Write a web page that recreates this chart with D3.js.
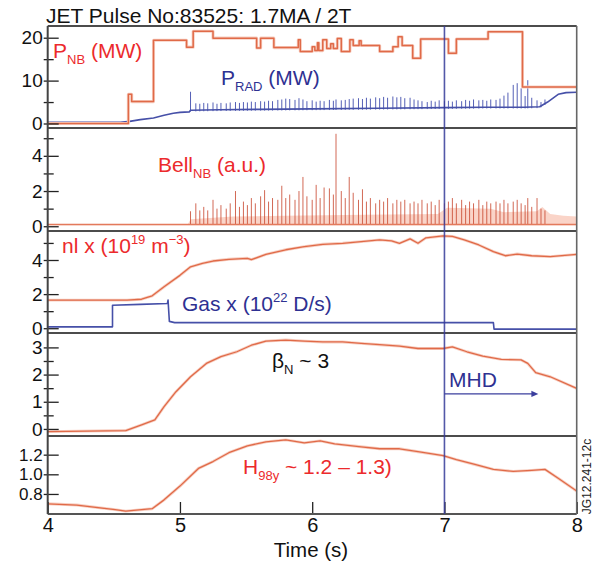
<!DOCTYPE html>
<html>
<head>
<meta charset="utf-8">
<script src="https://cdn.jsdelivr.net/npm/d3@7"></script>
<style>
  body { margin: 0; background: #fff; }
  svg { display: block; font-family: "Liberation Sans", Arial, Helvetica, sans-serif; }
  text { white-space: pre; }
</style>
</head>
<body>
<svg id="chart" width="595" height="567"></svg>
<script>
// ---- data (time in s) ----
const timeTicks = [4, 5, 6, 7, 8];

// P_NB (MW), step signal
const pnb = [[4.00, 0.0], [4.61, 6.8], [4.635, 5.1], [4.80, 19.4], [5.05, 17.8], [5.10, 21.5],
  [5.25, 19.9], [5.58, 17.6], [5.61, 19.9], [5.71, 17.7], [5.895, 19.5], [5.91, 16.8],
  [6.00, 17.9], [6.02, 17.0], [6.04, 18.8], [6.05, 17.0], [6.08, 19.5], [6.11, 17.5],
  [6.14, 18.6], [6.16, 17.5], [6.19, 19.8], [6.22, 16.8], [6.285, 19.5], [6.31, 18.2],
  [6.355, 19.3], [6.37, 18.2], [6.51, 16.8], [6.61, 17.9], [6.65, 20.2], [6.68, 18.2],
  [6.76, 15.2], [6.82, 19.7], [7.03, 16.4], [7.09, 19.7], [7.33, 21.4], [7.59, 8.5], [8.00, 8.5]];

// P_RAD (MW) baseline between ELMs
const pradBase = [[4.00, 0.3], [4.55, 0.3], [4.62, 0.5], [4.70, 0.9], [4.80, 1.3], [4.88, 1.9],
  [4.95, 2.4], [5.00, 2.6], [5.07, 2.7], [5.08, 3.1], [5.30, 3.2], [5.60, 3.3], [6.00, 3.4],
  [6.50, 3.55], [7.00, 3.7], [7.30, 3.8], [7.60, 3.8], [7.72, 3.9], [7.78, 5.0], [7.86, 6.8],
  [7.92, 7.2], [8.00, 7.3]];

// ELMs: [time, P_RAD peak (MW), Bell_NB peak (a.u.)]
const elms = [
  [5.08, 7.4, 0.85], [5.12, 4.7, 1.3], [5.15, 4.6, 0.9], [5.18, 4.8, 1.1], [5.21, 4.7, 0.9],
  [5.25, 4.9, 1.5], [5.28, 4.6, 1.0], [5.31, 4.8, 1.2], [5.35, 4.7, 1.0], [5.38, 4.9, 1.3],
  [5.42, 5.0, 2.0], [5.45, 4.8, 1.1], [5.48, 5.0, 1.4], [5.51, 4.9, 1.2], [5.54, 5.1, 1.6],
  [5.57, 5.0, 1.3], [5.61, 5.2, 1.7], [5.64, 5.1, 2.05], [5.67, 5.3, 1.4], [5.70, 5.2, 1.6],
  [5.74, 5.5, 1.5], [5.77, 5.6, 2.3], [5.80, 5.8, 1.6], [5.83, 5.7, 1.8], [5.87, 5.5, 1.5],
  [5.90, 5.9, 2.0], [5.93, 5.6, 2.8], [5.96, 5.2, 1.7], [6.00, 5.4, 1.5], [6.03, 5.1, 2.35],
  [6.06, 5.3, 1.6], [6.09, 5.2, 2.2], [6.13, 5.5, 2.15], [6.16, 5.3, 1.8], [6.18, 5.6, 5.25],
  [6.22, 5.4, 2.0], [6.25, 5.5, 1.6], [6.28, 5.7, 2.8], [6.31, 5.8, 1.9], [6.35, 5.9, 1.5],
  [6.38, 5.7, 2.1], [6.41, 6.0, 1.4], [6.44, 5.8, 1.6], [6.48, 6.1, 1.3], [6.51, 5.9, 1.5],
  [6.54, 6.2, 1.4], [6.57, 6.0, 1.6], [6.61, 6.3, 1.3], [6.64, 6.1, 1.5], [6.67, 6.2, 1.4],
  [6.70, 5.9, 1.5], [6.74, 6.0, 1.3], [6.77, 5.6, 1.4], [6.80, 5.4, 1.3], [6.83, 5.2, 1.5],
  [6.87, 5.0, 1.3], [6.90, 5.3, 1.4], [6.93, 5.1, 1.2], [6.96, 5.4, 1.5], [7.00, 5.2, 1.3],
  [7.03, 5.3, 1.4], [7.06, 5.1, 1.6], [7.09, 5.4, 1.3], [7.13, 5.2, 1.5], [7.16, 5.5, 1.2],
  [7.19, 5.3, 1.4], [7.22, 5.6, 1.3], [7.26, 5.4, 1.5], [7.29, 5.5, 1.2], [7.32, 5.3, 1.4],
  [7.35, 5.6, 1.3], [7.39, 5.5, 1.4], [7.42, 5.8, 1.3], [7.45, 6.5, 1.5], [7.48, 7.2, 1.3],
  [7.52, 9.0, 1.4], [7.55, 9.4, 1.5], [7.58, 8.2, 1.3], [7.61, 6.4, 1.2], [7.63, 10.1, 1.6],
  [7.66, 6.0, 1.1], [7.70, 5.4, 1.6], [7.73, 5.0, 1.0], [7.76, 5.6, 0.9]];

// Bell_NB dense background between ELMs (upper edge, a.u.)
const bellBand = [[4.00, 0.12], [5.06, 0.12], [5.08, 0.4], [5.40, 0.55], [5.80, 0.6], [6.40, 0.65],
  [6.95, 0.7], [7.02, 1.05], [7.35, 1.0], [7.45, 0.8], [7.70, 0.85], [7.74, 1.1], [7.80, 0.7],
  [7.90, 0.6], [8.00, 0.55]];

// line integrated density (10^19 m^-3)
const density = [[4.00, 1.65], [4.60, 1.65], [4.71, 1.7], [4.79, 1.9], [4.88, 2.43], [5.00, 3.1],
  [5.08, 3.6], [5.17, 3.8], [5.25, 3.94], [5.37, 4.04], [5.51, 4.1], [5.54, 4.02], [5.65, 4.33],
  [5.80, 4.6], [5.94, 4.78], [6.08, 4.92], [6.23, 4.98], [6.37, 5.08], [6.51, 5.18], [6.60, 5.12],
  [6.66, 4.98], [6.74, 5.24], [6.80, 4.98], [6.86, 5.3], [6.99, 5.41], [7.06, 5.38], [7.15, 5.18],
  [7.26, 4.88], [7.37, 4.49], [7.46, 4.25], [7.55, 4.35], [7.66, 4.25], [7.80, 4.2], [8.00, 4.33]];

// gas rate (10^22 D/s)
const gas = [[4.00, 0.08], [4.49, 0.08], [4.49, 1.35], [4.70, 1.4], [4.905, 1.45], [4.91, 1.65],
  [4.92, 0.4], [4.96, 0.33], [7.37, 0.33], [7.375, -0.05], [8.00, -0.05]];

// normalised beta
const betaN = [[4.00, -0.1], [4.59, -0.06], [4.71, 0.15], [4.81, 0.33], [4.88, 0.82], [4.97, 1.37],
  [5.08, 1.92], [5.20, 2.41], [5.31, 2.66], [5.43, 2.84], [5.54, 3.08], [5.65, 3.23], [5.80, 3.27],
  [5.94, 3.23], [6.08, 3.2], [6.23, 3.2], [6.37, 3.15], [6.51, 3.1], [6.66, 3.05], [6.80, 2.96],
  [6.99, 2.96], [7.06, 3.02], [7.17, 2.84], [7.29, 2.68], [7.43, 2.56], [7.58, 2.54], [7.63, 2.41],
  [7.69, 2.07], [7.80, 1.92], [8.00, 1.49]];

// H98y confinement factor
const h98 = [[4.00, 0.70], [4.22, 0.687], [4.51, 0.64], [4.59, 0.625], [4.79, 0.65], [4.88, 0.74],
  [5.00, 0.88], [5.14, 1.06], [5.25, 1.13], [5.37, 1.22], [5.51, 1.29], [5.65, 1.33], [5.80, 1.35],
  [5.94, 1.32], [6.06, 1.34], [6.17, 1.31], [6.37, 1.28], [6.51, 1.26], [6.66, 1.26], [6.80, 1.23],
  [6.99, 1.19], [7.09, 1.15], [7.23, 1.10], [7.37, 1.05], [7.52, 1.03], [7.66, 1.04], [7.76, 1.05],
  [7.86, 0.96], [8.00, 0.83]];

const mhdTime = 7.0, mhdEnd = 7.71, mhdLevel = 1.29;

const pnbTicks = [0, 10, 20], pnbMinor = [5, 15];
const bellTicks = [0, 2, 4], bellMinor = [1, 3, 5];
const nlTicks = [0, 2, 4], nlMinor = [1, 3, 5];
const betaTicks = [0, 1, 2, 3], betaMinor = [0.5, 1.5, 2.5];
const h98Ticks = [0.8, 1.0, 1.2];

// ---- layout ----
const svg = d3.select("#chart");
const left = 47.7, right = 576.7;
const RED = "#ec2a2c", BLUE = "#2e3192", ORANGE = "#e06a48", HALO = "#f7cfc2", NAVY = "#4650a8";

const x = d3.scaleLinear().domain([4, 8]).range([left, right]);

const panels = [
  { top: 26, bottom: 128, domain: [-1.05, 22.73], ticks: pnbTicks, minor: pnbMinor, fmt: d3.format("d"), fs: 19 },
  { top: 128, bottom: 231, domain: [-0.27, 5.58], ticks: bellTicks, minor: bellMinor, fmt: d3.format("d"), fs: 19 },
  { top: 231, bottom: 333, domain: [-0.28, 5.70], ticks: nlTicks, minor: nlMinor, fmt: d3.format("d"), fs: 19 },
  { top: 333, bottom: 436, domain: [-0.26, 3.53], ticks: betaTicks, minor: betaMinor, fmt: d3.format("d"), fs: 19 },
  { top: 436, bottom: 514, domain: [0.596, 1.39], ticks: h98Ticks, minor: [], fmt: d3.format(".1f"), fs: 17 }
];
panels.forEach((p, i) => {
  p.y = d3.scaleLinear().domain(p.domain).range([p.bottom, p.top]);
  svg.append("clipPath").attr("id", "clip" + i)
    .append("rect").attr("x", left).attr("y", p.top).attr("width", right - left).attr("height", p.bottom - p.top);
  p.g = svg.append("g").attr("clip-path", "url(#clip" + i + ")");
});

function trace(g, data, y, color, width, curve) {
  const line = d3.line().x(d => x(d[0])).y(d => y(d[1])).curve(curve || d3.curveLinear);
  if (color === ORANGE) {
    g.append("path").datum(data).attr("d", line).attr("fill", "none")
      .attr("stroke", HALO).attr("stroke-width", width + 1.6).attr("stroke-linejoin", "round");
  }
  g.append("path").datum(data).attr("d", line).attr("fill", "none")
    .attr("stroke", color).attr("stroke-width", width).attr("stroke-linejoin", "round");
}

// panel 1: P_NB and P_RAD
const p1 = panels[0];
const baseAt = d3.scaleLinear().domain(pradBase.map(d => d[0])).range(pradBase.map(d => d[1]));
p1.g.append("g").selectAll("line").data(elms).join("line")
  .attr("x1", d => x(d[0])).attr("x2", d => x(d[0]))
  .attr("y1", d => p1.y(baseAt(d[0]) - 0.3)).attr("y2", d => p1.y(d[1]))
  .attr("stroke", "#5560b6").attr("stroke-width", 1);
trace(p1.g, pradBase, p1.y, NAVY, 1.6);
trace(p1.g, pnb, p1.y, ORANGE, 1.5, d3.curveStepAfter);

// panel 2: Bell_NB
const p2 = panels[1];
p2.g.append("path").datum(bellBand)
  .attr("d", d3.area().x(d => x(d[0])).y0(p2.y(0.05)).y1(d => p2.y(d[1])))
  .attr("fill", "#f6b8a4").attr("opacity", 0.6);
p2.g.append("g").selectAll("line").data(elms).join("line")
  .attr("x1", d => x(d[0])).attr("x2", d => x(d[0]))
  .attr("y1", p2.y(0.1)).attr("y2", d => p2.y(d[2]))
  .attr("stroke", "#c8452c").attr("stroke-width", 1).attr("opacity", 0.8);
p2.g.append("line").attr("x1", left).attr("x2", right)
  .attr("y1", p2.y(0.1)).attr("y2", p2.y(0.1))
  .attr("stroke", "#e37a5c").attr("stroke-width", 1.4);

// panel 3: density and gas
const p3 = panels[2];
trace(p3.g, gas, p3.y, NAVY, 1.6);
trace(p3.g, density, p3.y, ORANGE, 1.3);

// panel 4: beta_N
const p4 = panels[3];
trace(p4.g, betaN, p4.y, ORANGE, 1.3);

// panel 5: H98y
const p5 = panels[4];
trace(p5.g, h98, p5.y, ORANGE, 1.3);

// ---- axes ----
panels.forEach(p => {
  const ax = svg.append("g").attr("transform", `translate(${left},0)`)
    .call(d3.axisLeft(p.y).tickValues(p.ticks).tickFormat(p.fmt).tickSize(4).tickPadding(1));
  ax.select(".domain").remove();
  ax.selectAll(".tick line").attr("x1", 11).attr("stroke", "#222").attr("stroke-width", 1.3);
  ax.selectAll(".tick text").attr("font-size", p.fs).attr("fill", "#111")
    .attr("font-family", "Liberation Sans, Arial, sans-serif");
  if (p.minor.length) {
    const mx = svg.append("g").attr("transform", `translate(${left},0)`)
      .call(d3.axisLeft(p.y).tickValues(p.minor).tickFormat("").tickSize(4));
    mx.select(".domain").remove();
    mx.selectAll(".tick line").attr("x1", 6).attr("stroke", "#222").attr("stroke-width", 1.3);
  }
});

const xAxis = svg.append("g").attr("transform", `translate(0,${p5.bottom})`)
  .call(d3.axisBottom(x).tickValues(timeTicks).tickFormat(d3.format("d")).tickSizeInner(-12).tickSizeOuter(0).tickPadding(4));
xAxis.select(".domain").remove();
xAxis.selectAll(".tick line").attr("stroke", "#222").attr("stroke-width", 1.3);
xAxis.selectAll(".tick text").attr("font-size", 20).attr("fill", "#111")
  .attr("font-family", "Liberation Sans, Arial, sans-serif");

// ---- frame ----
const frame = svg.append("g");
panels.forEach((p, i) => {
  frame.append("line").attr("x1", left).attr("x2", right).attr("y1", p.top).attr("y2", p.top)
    .attr("stroke", "#111").attr("stroke-width", i === 0 ? 1.6 : 1.5);
});
frame.append("line").attr("x1", left).attr("x2", right).attr("y1", p5.bottom).attr("y2", p5.bottom)
  .attr("stroke", "#555").attr("stroke-width", 2);
frame.append("line").attr("x1", left).attr("x2", left).attr("y1", p1.top).attr("y2", p5.bottom)
  .attr("stroke", "#444").attr("stroke-width", 2);
frame.append("line").attr("x1", right).attr("x2", right).attr("y1", p1.top).attr("y2", p5.bottom)
  .attr("stroke", "#666").attr("stroke-width", 1.6);

// MHD onset marker
svg.append("line").attr("x1", x(mhdTime)).attr("x2", x(mhdTime)).attr("y1", p1.top).attr("y2", p5.bottom)
  .attr("stroke", "#363b9a").attr("stroke-width", 1.6).attr("opacity", 0.85);
const ay = p4.y(mhdLevel), ax2 = x(mhdEnd);
svg.append("line").attr("x1", x(mhdTime)).attr("x2", ax2 - 4).attr("y1", ay).attr("y2", ay)
  .attr("stroke", "#3b3f9e").attr("stroke-width", 1.4);
svg.append("path").attr("d", `M${ax2},${ay} L${ax2 - 7},${ay - 3.2} L${ax2 - 7},${ay + 3.2} Z`)
  .attr("fill", "#3b3f9e");

// ---- text ----
function richText(x0, y0, parts, color, size) {
  const t = svg.append("text").attr("x", x0).attr("y", y0).attr("fill", color).attr("font-size", size);
  let shift = 0;
  parts.forEach(([s, kind]) => {
    const target = kind === "sub" ? size * 0.3 : kind === "sup" ? -size * 0.42 : 0;
    const ts = t.append("tspan").text(s).attr("dy", target - shift);
    if (kind) ts.attr("font-size", size * 0.62);
    shift = target;
  });
  return t;
}

svg.append("text").attr("x", 46).attr("y", 23).attr("font-size", 21).attr("fill", "#111")
  .text("JET Pulse No:83525: 1.7MA / 2T");

richText(53, 58, [["P"], ["NB", "sub"], [" (MW)"]], RED, 21);
richText(221, 85, [["P"], ["RAD", "sub"], [" (MW)"]], BLUE, 21);
richText(158, 172, [["Bell"], ["NB", "sub"], [" (a.u.)"]], RED, 21);
richText(62, 253, [["nl x (10"], ["19", "sup"], [" m"], ["\u22123", "sup"], [")"]], RED, 21);
richText(182, 311, [["Gas x (10"], ["22", "sup"], [" D/s)"]], BLUE, 21);
richText(272, 368, [["\u03B2"], ["N", "sub"], [" ~ 3"]], "#111", 21);
richText(449, 387, [["MHD"]], BLUE, 21);
richText(243, 474, [["H"], ["98y", "sub"], [" ~ 1.2 \u2013 1.3)"]], RED, 21);

svg.append("text").attr("transform", "translate(591,476.5) rotate(-90)")
  .attr("text-anchor", "middle").attr("font-size", 12).attr("fill", "#222")
  .text("JG12.241-12c");

svg.append("text").attr("x", 311).attr("y", 557).attr("text-anchor", "middle")
  .attr("font-size", 20.5).attr("fill", "#111").text("Time (s)");
</script>
</body>
</html>
